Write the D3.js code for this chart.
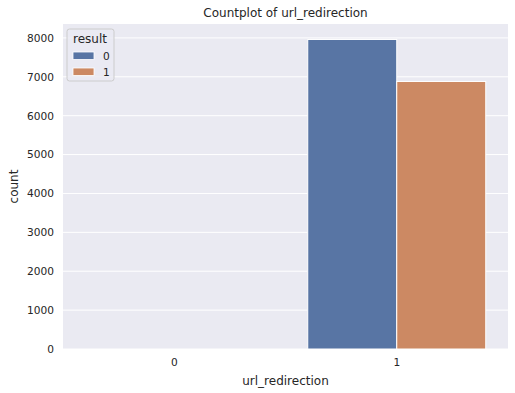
<!DOCTYPE html>
<html><head><meta charset="utf-8">
<script src="https://cdn.jsdelivr.net/npm/d3@7"></script>
<style>body{margin:0;background:#fff}svg{display:block;font-family:"DejaVu Sans",sans-serif}</style>
</head><body><svg id="c" width="515" height="393"></svg>
<script>
const categories = ["0", "1"];
const hues = ["0", "1"];
const counts0 = [0, 7960];   // result = 0
const counts1 = [0, 6880];   // result = 1
const yTicks = [0, 1000, 2000, 3000, 4000, 5000, 6000, 7000, 8000];
const colors = ["#5875a4", "#cc8963"];

const svg = d3.select("#c");
const m = {l: 63, r: 7, t: 24, b: 44};
const W = 515, H = 393;
const pw = W - m.l - m.r, ph = H - m.t - m.b;
const g = svg.append("g").attr("transform", `translate(${m.l},${m.t})`);
g.append("rect").attr("width", pw).attr("height", ph).attr("fill", "#eaeaf2");

const x = d3.scaleBand().domain(categories).range([0, pw]).padding(0);
const xi = d3.scaleBand().domain(hues).range([0, x.bandwidth() * 0.8]);
const y = d3.scaleLinear().domain([0, 8358]).range([ph, 0]);

// grid
g.selectAll("line.gy").data(yTicks).join("line")
  .attr("x1", 0).attr("x2", pw).attr("y1", d => y(d)).attr("y2", d => y(d))
  .attr("stroke", "#fff").attr("stroke-width", 1);

const series = [counts0, counts1];
const data = [];
series.forEach((s, hi) => s.forEach((v, ci) => data.push({c: categories[ci], h: hues[hi], v, hi})));
g.selectAll("rect.bar").data(data.filter(d => d.v > 0)).join("rect")
  .attr("x", d => x(d.c) + x.bandwidth()*0.1 + xi(d.h))
  .attr("width", xi.bandwidth())
  .attr("y", d => y(d.v))
  .attr("height", d => y(0) - y(d.v))
  .attr("fill", d => colors[d.hi])
  .attr("stroke", "#fff").attr("stroke-width", 1);

const tc = "#262626";
const ya = g.append("g").call(d3.axisLeft(y).tickValues(yTicks).tickFormat(d3.format("d")).tickSize(0).tickPadding(9));
ya.select(".domain").remove();
ya.selectAll("text").attr("font-size", 10.6).attr("fill", tc).attr("font-family", "DejaVu Sans");
const xa = g.append("g").attr("transform", `translate(0,${ph})`).call(d3.axisBottom(x).tickSize(0).tickPadding(9));
xa.select(".domain").remove();
xa.selectAll("text").attr("font-size", 10.6).attr("fill", tc).attr("font-family", "DejaVu Sans");

svg.append("text").attr("x", m.l + pw/2).attr("y", 17).attr("text-anchor", "middle")
  .attr("font-size", 12).attr("fill", tc).text("Countplot of url_redirection");
svg.append("text").attr("x", m.l + pw/2).attr("y", 385).attr("text-anchor", "middle")
  .attr("font-size", 12).attr("fill", tc).text("url_redirection");
svg.append("text").attr("transform", `translate(18,${m.t + ph/2}) rotate(-90)`).attr("text-anchor", "middle")
  .attr("font-size", 12).attr("fill", tc).text("count");

// legend
const lg = svg.append("g").attr("transform", "translate(67,29)");
lg.append("rect").attr("width", 47).attr("height", 52).attr("rx", 2.5)
  .attr("fill", "#eaeaf2").attr("fill-opacity", 0.8).attr("stroke", "#cccccc").attr("stroke-width", 1);
lg.append("text").attr("x", 6).attr("y", 14).attr("font-size", 12).attr("fill", tc).text("result");
hues.forEach((h, i) => {
  lg.append("rect").attr("x", 6).attr("y", 23 + i*16).attr("width", 21).attr("height", 7.5)
    .attr("fill", colors[i]).attr("stroke", "#fff").attr("stroke-width", 0.8);
  lg.append("text").attr("x", 36).attr("y", 31 + i*16).attr("font-size", 10.6).attr("fill", tc).text(h);
});
</script></body></html>
